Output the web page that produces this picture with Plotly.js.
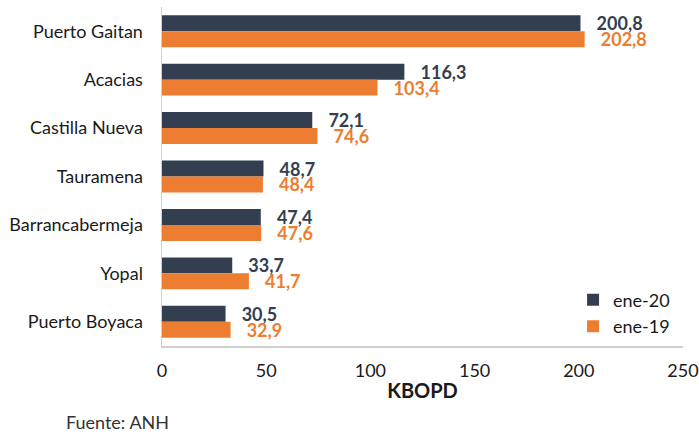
<!DOCTYPE html>
<html>
<head>
<meta charset="utf-8">
<script src="https://cdn.plot.ly/plotly-3.0.1.min.js"></script>
<style>html,body{margin:0;padding:0;background:#fff;}#chart{width:699px;height:434px;}</style>
</head>
<body>
<div id="chart"></div>
<script>
const categories = ["Puerto Gaitan", "Acacias", "Castilla Nueva", "Tauramena", "Barrancabermeja", "Yopal", "Puerto Boyaca"];
const ene20 = [200.8, 116.3, 72.1, 48.7, 47.4, 33.7, 30.5];
const ene19 = [202.8, 103.4, 74.6, 48.4, 47.6, 41.7, 32.9];
const seriesNames = ["ene-20", "ene-19"];
const xTicks = [0, 50, 100, 150, 200, 250];

const FONT = "Lato, 'Open Sans', sans-serif";
const DARK = "#333f50", ORANGE = "#ed7d31";
const pad = "\u00a0\u00a0\u00a0";
function fmt(v){ return pad + v.toFixed(1).replace(".", ","); }

const traces = [
  {type:"bar", orientation:"h", name:seriesNames[0], y:categories, x:ene20,
   marker:{color:DARK}, text:ene20.map(fmt), textposition:"outside", constraintext:"none",
   cliponaxis:false, textfont:{family:FONT, size:18, color:DARK, weight:"bold"}, hoverinfo:"none"},
  {type:"bar", orientation:"h", name:seriesNames[1], y:categories, x:ene19,
   marker:{color:ORANGE}, text:ene19.map(fmt), textposition:"outside", constraintext:"none",
   cliponaxis:false, textfont:{family:FONT, size:18, color:ORANGE, weight:"bold"}, hoverinfo:"none"}
];

const layout = {
  width:699, height:434,
  margin:{l:162, r:16, t:7, b:88},
  paper_bgcolor:"#fff", plot_bgcolor:"#fff",
  font:{family:FONT, size:18, color:"#1a1a1a"},
  barmode:"group", bargap:0.34, bargroupgap:0,
  showlegend:true,
  legend:{x:0.789, y:0.19, xanchor:"left", yanchor:"top", traceorder:"normal",
          font:{family:FONT, size:18, color:"#1a1a1a"}, itemwidth:30, tracegroupgap:0, bgcolor:"rgba(0,0,0,0)"},
  xaxis:{range:[0,250], tickvals:xTicks, ticktext:xTicks.map(String), showgrid:false, zeroline:false,
         showline:true, linecolor:"#d0d0d0", linewidth:1.5, ticks:"", ticklabelstandoff:8,
         tickfont:{family:FONT, size:18, color:"#1a1a1a"},
         title:{text:"<b>KBOPD</b>", font:{family:FONT, size:20, color:"#1a1a1a"}, standoff:4}},
  yaxis:{type:"category", autorange:"reversed", showgrid:false, zeroline:false,
         showline:true, linecolor:"#d0d0d0", linewidth:1.5, ticks:"", ticklabelstandoff:14,
         tickfont:{family:FONT, size:18, color:"#1a1a1a"}},
  annotations:[
    {text:"Fuente: ANH", xref:"paper", yref:"paper", x:-0.188, y:-0.224, xanchor:"left", yanchor:"middle",
     showarrow:false, font:{family:FONT, size:18, color:"#333"}}
  ]
};

Plotly.newPlot("chart", traces, layout, {displayModeBar:false, staticPlot:true});
</script>
</body>
</html>
